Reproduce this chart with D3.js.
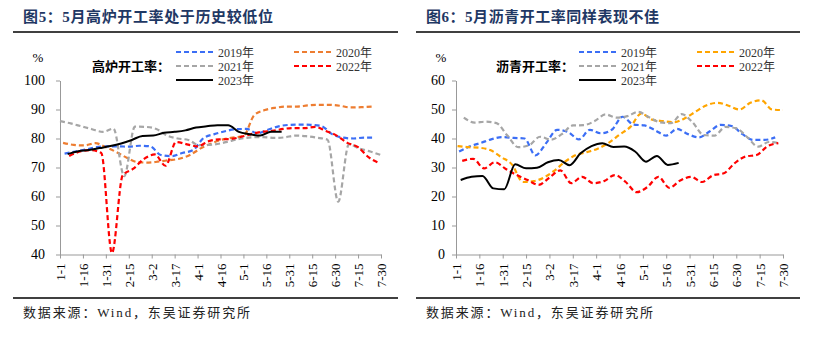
<!DOCTYPE html>
<html>
<head>
<meta charset="utf-8">
<script src="https://cdn.jsdelivr.net/npm/d3@7"></script>
<style>
  body { margin: 0; background: #fff; }
  text { font-family: "Liberation Serif", "Noto Sans CJK SC", serif; }
</style>
</head>
<body>
<script>
// tick labels on the shared month-day axis
var tickLabels = ["1-1","1-16","1-31","2-15","3-2","3-17","4-1","4-16","5-1","5-16","5-31","6-15","6-30","7-15","7-30"];
var years = ["2019年","2020年","2021年","2022年","2023年"];

// blast furnace operating rate (weekly, Fridays)
var bfStart = ["2019-01-04","2020-01-03","2021-01-01","2022-01-07","2023-01-06"];
var bf2019 = [74.8,75.5,76.2,77,77.3,77.3,77.2,77.5,77.3,74.3,73.9,75,76,80.2,81.5,82.5,83.2,83.3,81.8,83,84.2,84.7,84.8,84.7,84.3,81.5,80.3,80,80.3,80.3];
var bf2020 = [78.5,77.8,77.6,78.4,77,75.3,73.3,71.8,71.7,72,72.5,73,74.3,76.6,78.3,79.6,80.3,80.8,88,89.8,90.6,91,91,91.4,91.6,91.6,91.3,90.7,90.8,91];
var bf2021 = [86,85.2,84.2,83.2,82.3,83.4,67,84.1,84,83.3,81,80,79.5,77.7,77.8,78.3,79.2,80,80.4,80.5,80.2,80.4,81,80.8,80.3,79.6,58.2,78,76.5,75.5,74.3];
var bf2022 = [74,75.5,76,75,40.5,67.3,69.6,73,74.5,70.6,78.8,78,77.3,79,79.7,79.8,80.5,81.5,82.3,82.6,83.3,83.6,83.6,84,82.6,81,78.5,77,73.5,71.5];
var bf2023 = [74.6,75.6,76,76.7,77.4,78.3,79.5,80.9,81,82,82.3,82.8,83.8,84.2,84.6,84.6,82.3,81.5,81,82.3,82.3];

// asphalt operating rate (weekly)
var asStart = ["2019-01-03","2020-01-02","2021-01-06","2022-01-05","2023-01-04"];
var as2019 = [35.5,37.3,38.5,39.8,40.5,40.2,40,34.2,38.5,43,42.2,39.7,43,41.8,43,47.5,44.8,44.5,42.8,41,43.3,41.5,40.4,42.5,44.7,44.3,41.5,39.5,39.5,40.4];
var as2020 = [37.4,37,36.8,36,33.6,31,25,25.3,26.7,28.8,32,34.3,35.3,36.5,38.5,41.3,44,48.6,46.5,46,45.6,47,49.3,51.5,52.3,51.3,50,52.3,53.2,50,49.8];
var as2021 = [47.2,45.5,45.8,45.3,41,37,37.7,40.6,39.6,41.5,44.5,44.6,46,48.3,47.2,47.7,49.2,47.3,45.6,45.3,48.4,45.5,41.2,41,44,43.5,40.5,37.2,38.8,38.4];
var as2022 = [32.3,33,29.7,31.8,29.5,27.4,25.7,24,26.5,29,24.6,26.8,24.6,25.3,27.4,25,21.5,23.3,26.8,23,25.5,26.8,25,27.3,28,31.5,33.8,34.3,37.3,38.4];
var as2023 = [25.7,26.8,27.1,22.8,22.5,31.1,29.7,29.9,31.8,32.6,30.8,34.9,37.4,38.4,37.1,37.2,35.5,32,34,30.9,31.6];

var parseDay = d3.timeParse("%Y-%m-%d");

// put every date on one common (non-leap) year so years overlay by month-day
function toAxisDate(d) {
  return new Date(2023, d.getMonth(), d.getDate());
}

var svg = d3.select("body").append("svg")
  .attr("width", 827)
  .attr("height", 341);

function drawPanel(p) {
  var g = svg.append("g");

  // title + rules
  g.append("text")
    .attr("x", p.titleX).attr("y", 22)
    .attr("font-family", "'Noto Sans CJK SC', sans-serif")
    .attr("font-size", 15).attr("font-weight", "bold")
    .attr("fill", "#1f3864")
    .attr("textLength", p.titleW).attr("lengthAdjust", "spacing")
    .text(p.title);
  g.append("line")
    .attr("x1", p.rule[0]).attr("x2", p.rule[1])
    .attr("y1", 32).attr("y2", 32)
    .attr("stroke", "#404040").attr("stroke-width", 2);
  g.append("line")
    .attr("x1", p.rule[0]).attr("x2", p.rule[1])
    .attr("y1", 298).attr("y2", 298)
    .attr("stroke", "#404040").attr("stroke-width", 2);
  g.append("text")
    .attr("x", p.titleX).attr("y", 317)
    .attr("font-family", "'Noto Sans CJK SC', sans-serif")
    .attr("font-size", 13).attr("fill", "#222")
    .attr("textLength", p.footW).attr("lengthAdjust", "spacing")
    .text("数据来源：Wind，东吴证券研究所");

  var x = d3.scaleTime()
    .domain([toAxisDate(parseDay("2023-01-01")), toAxisDate(parseDay("2023-07-30"))])
    .range([p.x0, p.x1]);
  var y = d3.scaleLinear().domain(p.yDomain).range([254.5, 80.5]);

  var tickDates = tickLabels.map(function (t) { return parseDay("2023-" + t); });

  var xAxis = g.append("g")
    .attr("transform", "translate(0,254.5)")
    .call(d3.axisBottom(x).tickValues(tickDates).tickSize(4).tickSizeOuter(0)
      .tickFormat(function (d, i) { return tickLabels[i]; }));
  xAxis.selectAll("text")
    .attr("font-size", 13).attr("fill", "#000")
    .attr("transform", "rotate(-90)")
    .attr("text-anchor", "end")
    .attr("x", -9).attr("y", 0).attr("dy", "0.35em");

  var yAxis = g.append("g")
    .attr("transform", "translate(" + p.x0 + ",0)")
    .call(d3.axisLeft(y).ticks(6).tickSize(4).tickSizeOuter(0).tickPadding(p.yPad));
  yAxis.selectAll("text").attr("font-size", 14).attr("fill", "#000");

  g.selectAll(".domain, .tick line").attr("stroke", "#999");

  g.append("text")
    .attr("x", p.pctX).attr("y", 62)
    .attr("text-anchor", "middle").attr("font-size", 13)
    .text("%");

  var line = d3.line()
    .x(function (d) { return x(d.date); })
    .y(function (d) { return y(d.v); })
    .curve(d3.curveMonotoneX);

  p.series.forEach(function (vals, k) {
    var start = parseDay(p.starts[k]);
    var pts = vals.map(function (v, i) {
      return { date: toAxisDate(d3.timeDay.offset(start, 7 * i)), v: v };
    });
    g.append("path")
      .datum(pts)
      .attr("fill", "none")
      .attr("stroke", p.colors[k])
      .attr("stroke-width", k === 4 ? 2 : 2.2)
      .attr("stroke-dasharray", k === 4 ? null : "5,3")
      .attr("d", line);
  });

  // legend
  g.append("text")
    .attr("x", p.legLabelX).attr("y", 71)
    .attr("font-family", "'Noto Sans CJK SC', sans-serif")
    .attr("font-size", 13).attr("font-weight", "bold")
    .text(p.label);

  var legPos = [[0, 52], [1, 52], [0, 66], [1, 66], [0, 80]];
  years.forEach(function (yr, k) {
    var lx = p.legX[legPos[k][0]], ly = legPos[k][1];
    g.append("line")
      .attr("x1", lx).attr("x2", lx + 37)
      .attr("y1", ly).attr("y2", ly)
      .attr("stroke", p.colors[k]).attr("stroke-width", 2.2)
      .attr("stroke-dasharray", k === 4 ? null : "5,3");
    g.append("text")
      .attr("x", lx + 42).attr("y", ly + 4.5)
      .attr("font-size", 12).attr("fill", "#333")
      .text(yr);
  });
}

drawPanel({
  title: "图5：5月高炉开工率处于历史较低位", titleX: 23, titleW: 250, footW: 227,
  rule: [13, 398], x0: 60, x1: 381, yDomain: [40, 100], yPad: 11, pctX: 38,
  label: "高炉开工率：", legLabelX: 92, legX: [176, 294],
  colors: ["#3b6ef5", "#ed7d31", "#a6a6a6", "#ff0000", "#000000"],
  starts: bfStart, series: [bf2019, bf2020, bf2021, bf2022, bf2023]
});

drawPanel({
  title: "图6：5月沥青开工率同样表现不佳", titleX: 426, titleW: 233, footW: 227,
  rule: [416, 800], x0: 456, x1: 783, yDomain: [0, 60], yPad: 7, pctX: 441,
  label: "沥青开工率：", legLabelX: 496, legX: [579, 697],
  colors: ["#3b6ef5", "#ffa500", "#a6a6a6", "#ff0000", "#000000"],
  starts: asStart, series: [as2019, as2020, as2021, as2022, as2023]
});
</script>
</body>
</html>
